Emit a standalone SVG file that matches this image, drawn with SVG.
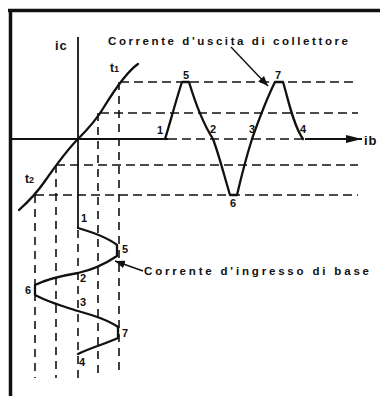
<svg xmlns="http://www.w3.org/2000/svg" width="380" height="396" viewBox="0 0 380 396">
<defs>
<style>
.frame{stroke:#111;stroke-width:3.5;fill:none}
.axis{stroke:#111;stroke-width:1.8;fill:none}
.curve{stroke:#111;stroke-width:2.3;fill:none;stroke-linejoin:round;stroke-linecap:round}
.dh{stroke:#111;stroke-width:1.6;fill:none;stroke-dasharray:9 5}
.dv{stroke:#111;stroke-width:1.6;fill:none;stroke-dasharray:8 6}
.lead{stroke:#111;stroke-width:1.4;fill:none}
text{font-family:"Liberation Sans",Arial,sans-serif;font-weight:bold;fill:#111}
.num{font-size:11px}
.lbl{font-size:11.5px}
.ax{font-size:13px;letter-spacing:1px}
</style>
<marker id="ah" viewBox="0 0 10 8" refX="10" refY="4" markerWidth="10" markerHeight="8" markerUnits="userSpaceOnUse" orient="auto">
<path d="M0,0 L10,4 L0,8 Z" fill="#111"/>
</marker>
<marker id="ahb" viewBox="0 0 16 8" refX="16" refY="4" markerWidth="16" markerHeight="8" markerUnits="userSpaceOnUse" orient="auto">
<path d="M0,0 L16,4 L0,8 Z" fill="#111"/>
</marker>
</defs>
<rect width="380" height="396" fill="#fff"/>
<g id="frame">
<line class="frame" x1="8" y1="10.5" x2="380" y2="10.5"/>
<line class="frame" x1="10.5" y1="9" x2="10.5" y2="396"/>
</g>
<g id="grid">
<line class="dh" x1="120" y1="82" x2="358" y2="82"/>
<line class="dh" x1="100" y1="113" x2="358" y2="113"/>
<line class="dh" x1="56" y1="165" x2="358" y2="165"/>
<line class="dh" x1="35" y1="195" x2="358" y2="195"/>
<line class="dv" x1="35" y1="195" x2="35" y2="378"/>
<line class="dv" x1="56" y1="165" x2="56" y2="378"/>
<line class="dv" x1="78" y1="230" x2="78" y2="378"/>
<line class="dv" x1="98" y1="113" x2="98" y2="378"/>
<line class="dv" x1="119" y1="82" x2="119" y2="372"/>
</g>
<g id="axes">
<line class="axis" x1="78" y1="37" x2="78" y2="228"/>
<line class="axis" x1="10" y1="139" x2="168" y2="139"/>
<line class="dh" x1="168" y1="139" x2="305" y2="139"/>
<line class="axis" x1="305" y1="139" x2="362" y2="139" marker-end="url(#ahb)"/>
<text id="ic" class="ax" x="55" y="50">ic</text>
<text id="ib" class="ax" x="364" y="145">ib</text>
</g>
<g id="transfer">
<path class="curve" d="M19,210 C28,202 36,194 45,181 C52,171 66,151 78,139 C90,127 97,119 104,107 C112,94 125,73 138,64"/>
<text x="110" y="72" style="font-size:12px">t<tspan style="font-size:9px">1</tspan></text>
<text x="25" y="183" style="font-size:12px">t<tspan style="font-size:9px">2</tspan></text>
</g>
<g id="output">
<path class="curve" d="M165,139 C169,127 176,100 182,82 L189,82 C195,102 204,125 213,139 C219,155 224,175 230,195 L237,195 C241,178 246,158 252,139 C258,122 268,96 275,82 L283,82 C288,98 293,125 303,139"/>
<text class="num" x="157" y="134">1</text>
<text class="num" x="183" y="79">5</text>
<text class="num" x="210" y="133">2</text>
<text class="num" x="249" y="133">3</text>
<text class="num" x="275" y="79">7</text>
<text class="num" x="300" y="133">4</text>
<text class="num" x="230" y="207">6</text>
</g>
<g id="input">
<path class="curve" d="M78,228 C92,232 108,238 117,245 L117,256 C105,264 92,270 78,273 C60,276 45,280 35,285 L35,295 C48,302 62,306 78,311 C95,316 108,320 118,327 L118,338 C105,344 90,348 78,354"/>
<text class="num" x="81" y="222">1</text>
<text class="num" x="122" y="253">5</text>
<text class="num" x="80" y="282">2</text>
<text class="num" x="25" y="294">6</text>
<text class="num" x="80" y="306">3</text>
<text class="num" x="122" y="337">7</text>
<text class="num" x="79" y="366">4</text>
</g>
<g id="labels">
<text id="out-label" class="lbl" x="108" y="45" textLength="240" lengthAdjust="spacing">Corrente d'uscita di collettore</text>
<text id="in-label" class="lbl" x="144" y="275" textLength="225" lengthAdjust="spacing">Corrente d'ingresso di base</text>
</g>
<g id="connectors">
<line class="lead" x1="231" y1="47" x2="268" y2="86" marker-end="url(#ah)"/>
<line class="lead" x1="143" y1="271" x2="115" y2="261" marker-end="url(#ah)"/>
</g>
</svg>
